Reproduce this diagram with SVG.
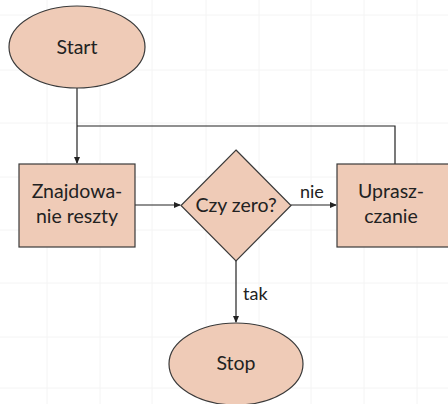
<svg xmlns="http://www.w3.org/2000/svg" width="448" height="404" viewBox="0 0 448 404">
<defs>
<style>
.grid{stroke:#f4f4f4;stroke-width:1}
.node{fill:#efcbb7;stroke:#3a3a3a;stroke-width:1.2}
.lbl{font-family:Lato,"Open Sans",sans-serif;font-size:19.5px;fill:#222;text-anchor:middle}
.el{font-family:Lato,"Open Sans",sans-serif;font-size:18px;fill:#222}
.conn{fill:none;stroke:#222;stroke-width:1.2}
</style>
<marker id="arr" markerWidth="7" markerHeight="6" refX="6" refY="3" orient="auto" markerUnits="userSpaceOnUse">
<path d="M0,0 L7,3 L0,6 Z" fill="#222"/>
</marker>
</defs>
<rect width="448" height="404" fill="#fff"/>
<g id="grid">
<path class="grid" d="M47,0V404M100,0V404M152,0V404M206,0V404M259,0V404M311,0V404M364,0V404M417,0V404M0,15H448M0,70H448M0,123H448M0,177H448M0,230H448M0,283H448M0,337H448M0,388H448"/>
</g>
<g id="connectors">
<path class="conn" d="M77,88V163" marker-end="url(#arr)"/>
<path class="conn" d="M77,126H395V164"/>
<path class="conn" d="M135,205H180" marker-end="url(#arr)"/>
<path class="conn" d="M291,205H336" marker-end="url(#arr)"/>
<path class="conn" d="M236,261V322" marker-end="url(#arr)"/>
<text class="el" x="300" y="198">nie</text>
<text class="el" x="243" y="300">tak</text>
</g>
<g id="start">
<ellipse class="node" cx="77" cy="47" rx="68" ry="41"/>
<text class="lbl" x="77" y="54">Start</text>
</g>
<g id="znajdowanie">
<rect class="node" x="19" y="164" width="116" height="83"/>
<text class="lbl" x="77" y="198">Znajdowa-</text>
<text class="lbl" x="77" y="223">nie reszty</text>
</g>
<g id="czyzero">
<path class="node" d="M236,150L291,205.5L236,261L181,205.5Z"/>
<text class="lbl" x="236" y="212">Czy zero?</text>
</g>
<g id="upraszczanie">
<rect class="node" x="337" y="164" width="116" height="83"/>
<text class="lbl" x="391" y="198">Uprasz-</text>
<text class="lbl" x="391" y="223">czanie</text>
</g>
<g id="stop">
<ellipse class="node" cx="236" cy="364" rx="67" ry="41"/>
<text class="lbl" x="236" y="370">Stop</text>
</g>
</svg>
